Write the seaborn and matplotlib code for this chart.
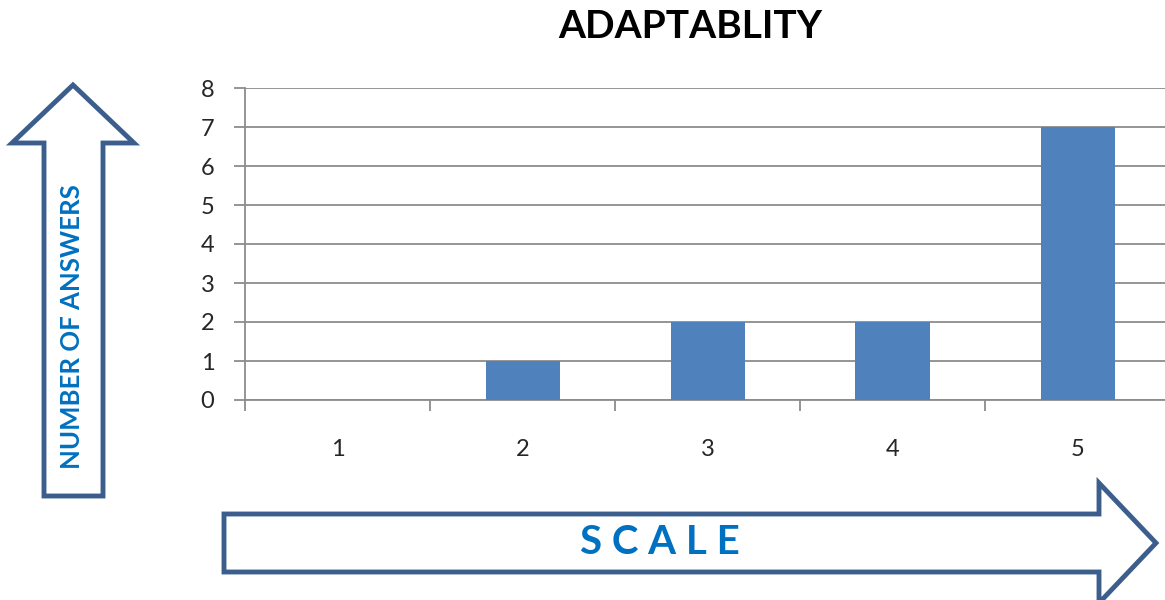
import matplotlib
matplotlib.use("Agg")
import matplotlib.pyplot as plt
from matplotlib.patches import Polygon
import seaborn as sns
import pandas as pd

# Datos
escala = [1, 2, 3, 4, 5]
respuestas = [0, 1, 2, 2, 7]
titulo = "ADAPTABLITY"

df = pd.DataFrame({"escala": escala, "respuestas": respuestas})

sns.set_style("white")
plt.rcParams["font.family"] = ["Lato", "DejaVu Sans"]

gris = "#8c8c8c"
azul_barra = "#4F81BD"
azul_texto = "#0070C0"
azul_flecha = "#3B5E8C"

fig = plt.figure(figsize=(11.65, 6), dpi=100)

# Capa de fondo para las flechas (coordenadas en pixeles)
capa = fig.add_axes([0, 0, 1, 1])
capa.set_xlim(0, 1165)
capa.set_ylim(600, 0)
capa.axis("off")

flecha_v = [(73, 85), (134, 143), (103, 143), (103, 496), (44, 496), (44, 143), (12, 143)]
capa.add_patch(Polygon(flecha_v, closed=True, facecolor="white", edgecolor=azul_flecha, linewidth=3.5, joinstyle="miter"))
capa.text(72, 327, "NUMBER OF ANSWERS", rotation=90, ha="center", va="center",
          fontsize=18.5, fontweight="bold", color=azul_texto)

flecha_h = [(224, 514), (1099, 514), (1099, 483), (1156, 543), (1099, 603), (1099, 572), (224, 572)]
capa.add_patch(Polygon(flecha_h, closed=True, facecolor="white", edgecolor=azul_flecha, linewidth=3.5, joinstyle="miter"))
capa.text(660, 543, "S C A L E", ha="center", va="center",
          fontsize=29, fontweight="bold", color=azul_texto)

# Grafico de barras
ax = fig.add_axes([245 / 1165, 200 / 600, 925 / 1165, 312 / 600])
ax.patch.set_alpha(0)
sns.barplot(data=df, x="escala", y="respuestas", color=azul_barra, saturation=1,
            width=0.4, linewidth=0, ax=ax, zorder=3)

ax.set_xlim(-0.5, 4.5)
ax.set_ylim(0, 8)
ax.set_yticks(range(0, 9))
ax.yaxis.grid(True, color=gris, linewidth=1.3, zorder=0)
ax.set_axisbelow(True)

ax.set_xticks([i - 0.5 for i in range(6)], minor=True)
ax.tick_params(axis="x", which="major", bottom=False, length=0, pad=28, labelsize=17)
ax.tick_params(axis="x", which="minor", bottom=True, length=8, width=1.3, color=gris, direction="out")
ax.tick_params(axis="y", left=True, length=8, width=1.3, color=gris, direction="out", pad=14, labelsize=17)

for lado in ["top", "right"]:
    ax.spines[lado].set_visible(False)
for lado in ["left", "bottom"]:
    ax.spines[lado].set_color(gris)
    ax.spines[lado].set_linewidth(1.3)

ax.set_xlabel("")
ax.set_ylabel("")

fig.text(690 / 1165, 1 - 27 / 600, titulo, ha="center", va="center",
         fontsize=28, fontweight="bold", color="black")

fig.savefig("out.png", dpi=100)
